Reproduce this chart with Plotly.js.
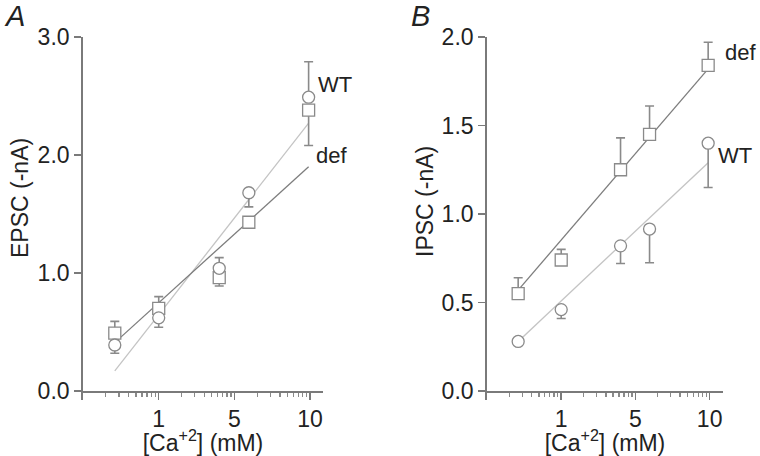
<!DOCTYPE html>
<html>
<head>
<meta charset="utf-8">
<script src="https://cdn.plot.ly/plotly-3.0.1.min.js"></script>
<style>
  html, body { margin: 0; padding: 0; background: #fff; }
  #chart { width: 760px; height: 456px; }
</style>
</head>
<body>
<div id="chart"></div>
<script>
(function () {
    // x positions on the log axis (decade ticks are labelled 1, 5, 10)
    const conc = [0.263, 1, 6.3, 15.5, 95.5];
    const majorTicks = [1, 10, 100];
    const majorText = ['1', '5', '10'];

    // Panel A: EPSC
    const epscWT = [0.39, 0.62, 1.04, 1.68, 2.49];
    const epscWTplus = [0, 0, 0.09, 0, 0.30];
    const epscWTminus = [0.07, 0.08, 0, 0.12, 0];
    const epscDef = [0.49, 0.70, 0.96, 1.43, 2.38];
    const epscDefPlus = [0.10, 0.10, 0, 0, 0];
    const epscDefMinus = [0, 0, 0.07, 0, 0.30];
    const epscFitWT = [0.17, 2.27];
    const epscFitDef = [0.41, 1.90];

    // Panel B: IPSC
    const ipscWT = [0.28, 0.46, 0.82, 0.915, 1.40];
    const ipscWTminus = [0.02, 0.05, 0.10, 0.19, 0.25];
    const ipscDef = [0.55, 0.74, 1.25, 1.45, 1.84];
    const ipscDefPlus = [0.09, 0.06, 0.18, 0.16, 0.13];
    const ipscFitWT = [0.28, 1.29];
    const ipscFitDef = [0.57, 1.82];

    const fitX = [conc[0], conc[conc.length - 1]];

    const fontFamily = '"Liberation Sans", Arial, Helvetica, sans-serif';
    const axisColor = '#7a7a7a';
    const markColor = '#8a8a8a';
    const darkLine = '#7d7d7d';
    const lightLine = '#c4c4c4';

    // log minor ticks (2..9 of each decade)
    const minorVals = [];
    [0.1, 1, 10].forEach(d => { for (let k = 2; k <= 9; k++) minorVals.push(d * k); });

    const fitTrace = (y, color, xa, ya) => ({
        x: fitX, y: y, mode: 'lines', xaxis: xa, yaxis: ya,
        line: {color: color, width: 1.3}, showlegend: false, hoverinfo: 'skip'
    });
    const pointTrace = (y, plus, minus, symbol, name, xa, ya) => ({
        x: conc, y: y, mode: 'markers', name: name, xaxis: xa, yaxis: ya,
        marker: {symbol: symbol, size: 12, color: '#ffffff', line: {color: markColor, width: 1.3}},
        error_y: {type: 'data', symmetric: false, array: plus, arrayminus: minus,
                  color: markColor, thickness: 1.6, width: 4.5},
        showlegend: false
    });
    const zeros = conc.map(() => 0);

    const data = [
        fitTrace(epscFitWT, lightLine, 'x', 'y'),
        fitTrace(epscFitDef, darkLine, 'x', 'y'),
        pointTrace(epscDef, epscDefPlus, epscDefMinus, 'square', 'def', 'x', 'y'),
        pointTrace(epscWT, epscWTplus, epscWTminus, 'circle', 'WT', 'x', 'y'),
        fitTrace(ipscFitWT, lightLine, 'x2', 'y2'),
        fitTrace(ipscFitDef, darkLine, 'x2', 'y2'),
        pointTrace(ipscDef, ipscDefPlus, zeros, 'square', 'def', 'x2', 'y2'),
        pointTrace(ipscWT, zeros, ipscWTminus, 'circle', 'WT', 'x2', 'y2')
    ];

    const xPos = 1 - 391 / 456;
    const xAxis = (domain, range) => ({
        domain: domain, type: 'log', range: range,
        anchor: 'free', position: xPos,
        tickmode: 'array', tickvals: majorTicks, ticktext: majorText,
        ticks: 'outside', ticklen: 7, tickwidth: 1.5, tickcolor: axisColor,
        showline: true, linecolor: axisColor, linewidth: 1.8,
        showgrid: false, zeroline: false,
        tickfont: {family: fontFamily, size: 23, color: '#222'},
        title: {text: '[Ca<sup>+2</sup>] (mM)', font: {family: fontFamily, size: 23, color: '#222'}, standoff: 0},
        minor: {tickmode: 'array', tickvals: minorVals, ticks: 'outside', ticklen: 4,
                tickwidth: 1.3, tickcolor: '#8a8a8a', showgrid: false}
    });
    // y domain runs 9px below the x axis so the axis line overhangs it
    const yAxis = (anchor, range, dtick) => ({
        domain: [1 - 400 / 456, 1 - 37 / 456], anchor: anchor, range: range,
        tickmode: 'linear', tick0: 0, dtick: dtick, tickformat: '.1f',
        ticks: 'outside', ticklen: 7, tickwidth: 1.5, tickcolor: axisColor,
        showline: true, linecolor: axisColor, linewidth: 1.8,
        showgrid: false, zeroline: false,
        tickfont: {family: fontFamily, size: 23, color: '#222'}
    });

    const label = (text, x, y, size, italic, angle) => ({
        text: italic ? '<i>' + text + '</i>' : text,
        xref: 'paper', yref: 'paper', x: x / 760, y: 1 - y / 456,
        xanchor: angle ? 'center' : 'left', yanchor: 'middle',
        showarrow: false, textangle: angle || 0,
        font: {family: fontFamily, size: size, color: '#222'}
    });

    const rangeA = [-1, 2.17];
    const rangeB = [-1, 2.18];
    const layout = {
        width: 760, height: 456,
        margin: {l: 0, r: 0, t: 0, b: 0},
        paper_bgcolor: '#fff', plot_bgcolor: '#fff',
        showlegend: false,
        xaxis: xAxis([83 / 760, 323 / 760], rangeA),
        yaxis: yAxis('x', [-3 * 9 / 354, 3], 1),
        xaxis2: xAxis([487 / 760, 723 / 760], rangeB),
        yaxis2: yAxis('x2', [-2 * 9 / 354, 2], 0.5),
        annotations: [
            label('A', 2, 16, 29, true),
            label('B', 409, 16, 29, true),
            label('EPSC (-nA)', 20, 198, 23, false, -90),
            label('IPSC (-nA)', 425, 202, 23, false, -90),
            label('WT', 316, 85, 22),
            label('def', 314, 155, 22),
            label('def', 723, 52, 22),
            label('WT', 716, 155, 22)
        ]
    };

    Plotly.newPlot('chart', data, layout, {displayModeBar: false, staticPlot: true});
})();
</script>
</body>
</html>
